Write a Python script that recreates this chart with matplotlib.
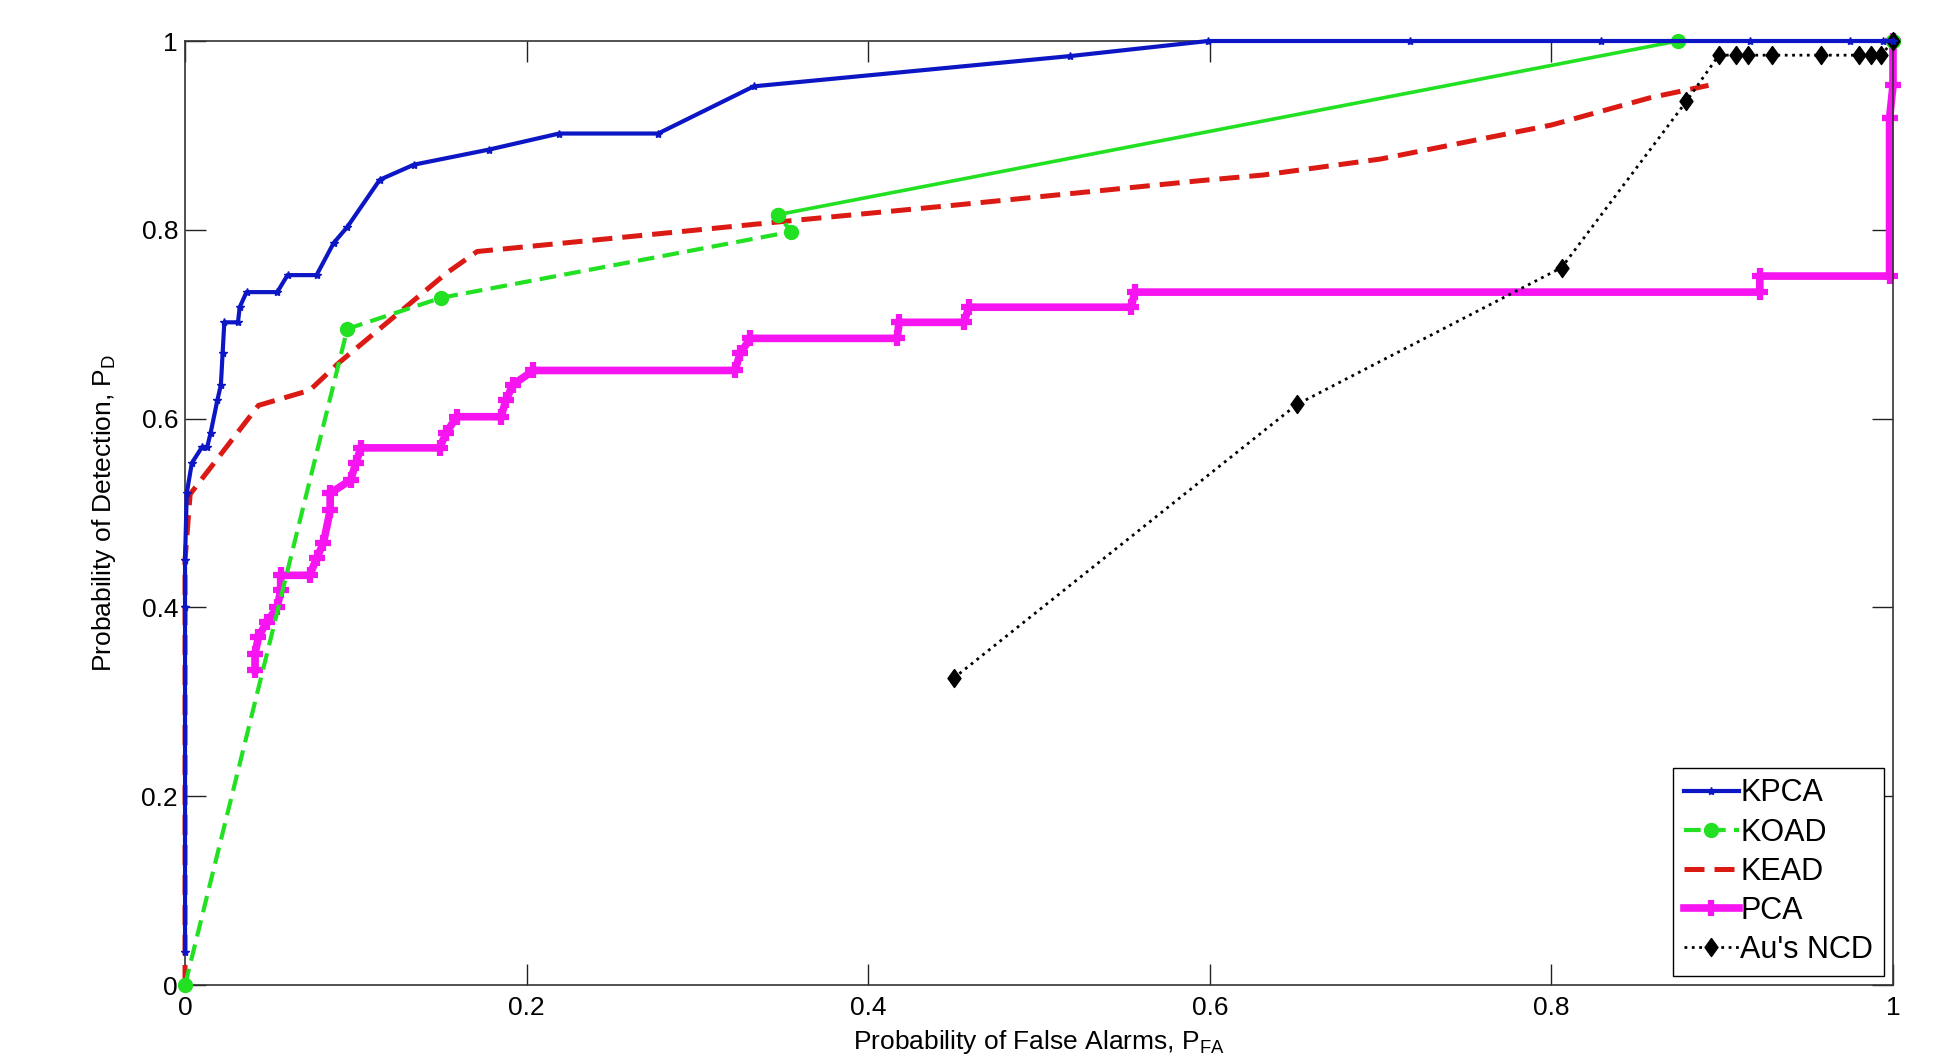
import numpy as np
import matplotlib
matplotlib.use("Agg")
from matplotlib import pyplot as plt

plt.rcParams['font.family'] = ['Liberation Sans', 'DejaVu Sans']
plt.rcParams['mathtext.fontset'] = 'custom'
plt.rcParams['mathtext.rm'] = 'Liberation Sans'
plt.rcParams['mathtext.it'] = 'Liberation Sans:italic'

# ROC curves (PFA, PD)
kpca_x = [0, 0, 0, 0.001, 0.004, 0.010, 0.013, 0.015, 0.019, 0.021, 0.022, 0.023, 0.031,
          0.032, 0.036, 0.054, 0.060, 0.077, 0.087, 0.095, 0.114, 0.134, 0.178, 0.219,
          0.277, 0.333, 0.518, 0.599, 0.717, 0.829, 0.916, 0.975, 0.994, 1.0]
kpca_y = [0.035, 0.40, 0.45, 0.521, 0.553, 0.570, 0.570, 0.585, 0.620, 0.636, 0.669, 0.702,
          0.702, 0.718, 0.734, 0.734, 0.752, 0.752, 0.786, 0.803, 0.853, 0.869, 0.885,
          0.902, 0.902, 0.952, 0.984, 1.0, 1.0, 1.0, 1.0, 1.0, 1.0, 1.0]

koad_x = [0, 0.095, 0.150, 0.355, 0.347, 0.874, 1.0]
koad_y = [0, 0.695, 0.728, 0.798, 0.816, 1.0, 1.0]

kead_x = [0, 0, 0.003, 0.043, 0.073, 0.090, 0.153, 0.171, 0.284, 0.351, 0.450, 0.594,
          0.631, 0.700, 0.800, 0.858, 0.892]
kead_y = [0, 0.45, 0.52, 0.614, 0.630, 0.659, 0.754, 0.777, 0.797, 0.809, 0.826, 0.852,
          0.858, 0.875, 0.911, 0.940, 0.953]

pca_x = [0.041, 0.041, 0.043, 0.048, 0.054, 0.056, 0.056, 0.073, 0.077, 0.081, 0.085,
         0.085, 0.097, 0.100, 0.103, 0.149, 0.153, 0.159, 0.185, 0.188, 0.192, 0.204,
         0.322, 0.325, 0.331, 0.417, 0.418, 0.456, 0.459, 0.554, 0.556, 0.922, 0.922,
         0.998, 0.998, 1.0, 1.0]
pca_y = [0.334, 0.351, 0.369, 0.385, 0.400, 0.418, 0.434, 0.434, 0.452, 0.468, 0.503,
         0.521, 0.535, 0.553, 0.569, 0.569, 0.585, 0.602, 0.602, 0.620, 0.636, 0.651,
         0.651, 0.669, 0.685, 0.685, 0.702, 0.702, 0.718, 0.718, 0.734, 0.734, 0.751,
         0.751, 0.918, 0.953, 1.0]

ncd_x = [0.450, 0.651, 0.806, 0.879, 0.898, 0.908, 0.915, 0.929, 0.958, 0.980, 0.987,
         0.993, 1.0]
ncd_y = [0.325, 0.615, 0.760, 0.936, 0.985, 0.985, 0.985, 0.985, 0.985, 0.985, 0.985,
         0.985, 1.0]

labels = ['KPCA', 'KOAD', 'KEAD', 'PCA', "Au's NCD"]
ticks = [0, 0.2, 0.4, 0.6, 0.8, 1]
tick_labels = ['0', '0.2', '0.4', '0.6', '0.8', '1']

fig = plt.figure(figsize=(19.58, 10.57), dpi=100)
ax = fig.add_axes([0.0945, 0.0681, 0.8723, 0.8931])

blue = '#0c16c4'
green = '#22e022'
red = '#dc1a14'
magenta = '#f614f0'
diamond = [(0, 1), (0.72, 0), (0, -1), (-0.72, 0), (0, 1)]

h1, = ax.plot(kpca_x, kpca_y, color=blue, lw=3.0, marker='*', ms=6, label=labels[0],
              clip_on=False, zorder=6)
# KOAD: dashed up to the second cluster, then the long stretch drawn solid
h2, = ax.plot(koad_x[:5], koad_y[:5], color=green, lw=3.0, dashes=(4, 2), marker='o',
              ms=10, label=labels[1], clip_on=False, zorder=4)
ax.plot(koad_x[4:], koad_y[4:], color=green, lw=2.6, marker='o', ms=10,
        clip_on=False, zorder=4)
h3, = ax.plot(kead_x, kead_y, color=red, lw=3.6, dashes=(4, 2), label=labels[2],
              clip_on=False, zorder=3)
h4, = ax.plot(pca_x, pca_y, color=magenta, lw=5.5, marker='+', ms=12, mew=4.5,
              label=labels[3], clip_on=False, zorder=2)
h5, = ax.plot(ncd_x, ncd_y, color='black', lw=2, ls=':', marker=diamond, ms=13,
              label=labels[4], clip_on=False, zorder=5)

ax.set_xlim(0, 1)
ax.set_ylim(0, 1)
ax.set_xticks(ticks)
ax.set_xticklabels(tick_labels)
ax.set_yticks(ticks)
ax.set_yticklabels(tick_labels)
ax.tick_params(direction='in', length=15, width=1, labelsize=19, top=True, right=True,
               colors='#222222', labelcolor='black')
ax.tick_params(axis='x', pad=8)
ax.tick_params(axis='y', pad=5)
for s in ax.spines.values():
    s.set_linewidth(1.2)
    s.set_color('#333333')

ax.set_xlabel(r'Probability of False Alarms, P$_{\mathrm{FA}}$', fontsize=19)
ax.xaxis.set_label_coords(0.5, -0.046)
ax.set_ylabel(r'Probability of Detection, P$_{\mathrm{D}}$', fontsize=19)
ax.yaxis.set_label_coords(-0.039, 0.5)

leg = ax.legend(handles=[h1, h2, h3, h4, h5], loc='lower right', fontsize=22,
                frameon=True, fancybox=False, edgecolor='black', framealpha=1,
                handlelength=1.8, handletextpad=0.05, labelspacing=0.3,
                borderpad=0.35, borderaxespad=0.3)
leg.get_frame().set_linewidth(1.0)

fig.savefig('out.png', dpi=100)
